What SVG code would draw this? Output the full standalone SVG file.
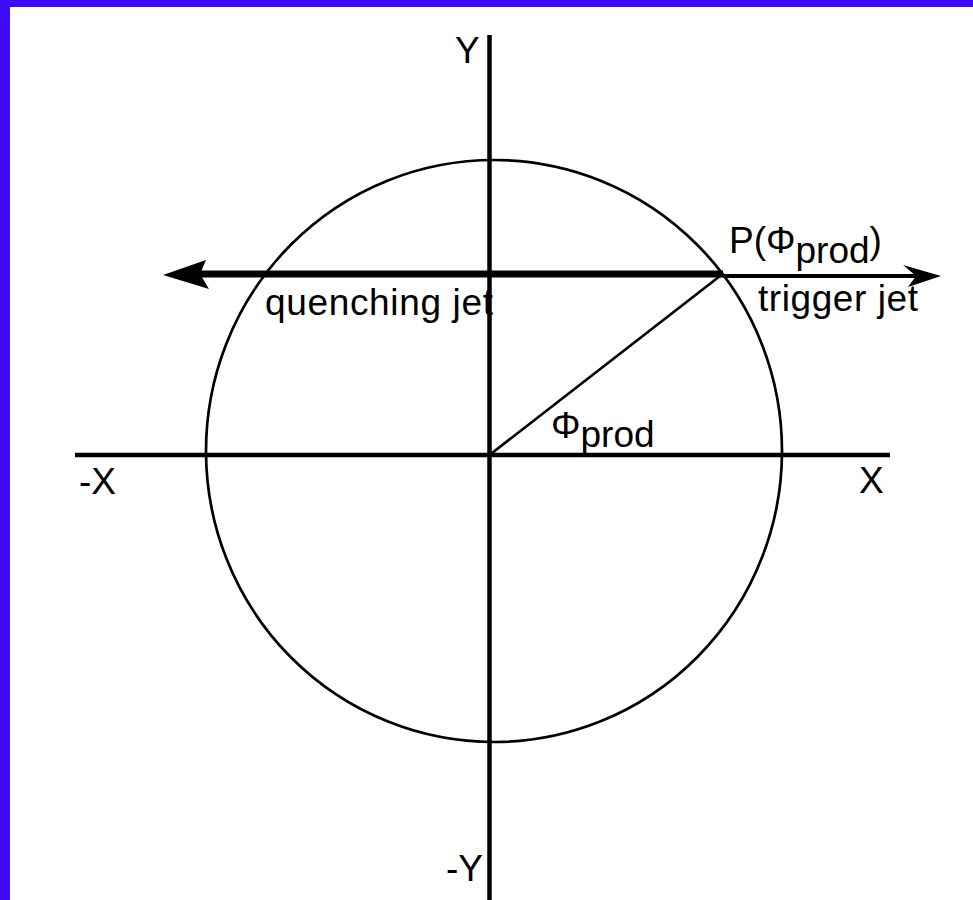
<svg xmlns="http://www.w3.org/2000/svg" width="973" height="900" viewBox="0 0 973 900">
<style>
.ax{stroke:#000;stroke-width:4.5;fill:none}
.thin{stroke:#000;stroke-width:2.7;fill:none}
.lbl{font-family:"Liberation Sans",Arial,sans-serif;font-size:37px;fill:#000}
</style>
<rect x="0" y="0" width="973" height="900" fill="#fff"/>
<rect x="0" y="0" width="973" height="7" fill="#3f0bf4"/>
<rect x="0" y="0" width="10" height="900" fill="#3f0bf4"/>
<g id="axes">
<line class="ax" x1="489.5" y1="35" x2="489.5" y2="900"/>
<line class="ax" x1="75" y1="455" x2="890" y2="455"/>
</g>
<g id="circle">
<ellipse class="thin" cx="494" cy="451" rx="288" ry="291"/>
</g>
<g id="connectors">
<line id="radius" class="thin" x1="489.5" y1="455" x2="722.6" y2="274"/>
<g id="quenching-jet-arrow">
<line x1="180" y1="274" x2="723" y2="274" stroke="#000" stroke-width="7"/>
<polygon points="163,275 206,260 200,274 209,289" fill="#000"/>
</g>
<g id="trigger-jet-arrow">
<line x1="723" y1="276" x2="930" y2="276" stroke="#000" stroke-width="4"/>
<polygon points="903,265 941,276 908,287 916,276" fill="#000"/>
</g>
</g>
<g id="labels">
<text class="lbl" x="455" y="63">Y</text>
<text class="lbl" x="446" y="881">-Y</text>
<text class="lbl" x="79" y="494">-X</text>
<text class="lbl" x="859" y="493">X</text>
<text class="lbl" x="265" y="315" textLength="228" lengthAdjust="spacing">quenching jet</text>
<text class="lbl" x="758" y="311" textLength="160" lengthAdjust="spacing">trigger jet</text>
<text class="lbl" x="729" y="253">P(Φ<tspan dy="10">prod</tspan><tspan dy="-10">)</tspan></text>
<text class="lbl" x="551" y="438">Φ<tspan dy="9">prod</tspan></text>
</g>
</svg>
